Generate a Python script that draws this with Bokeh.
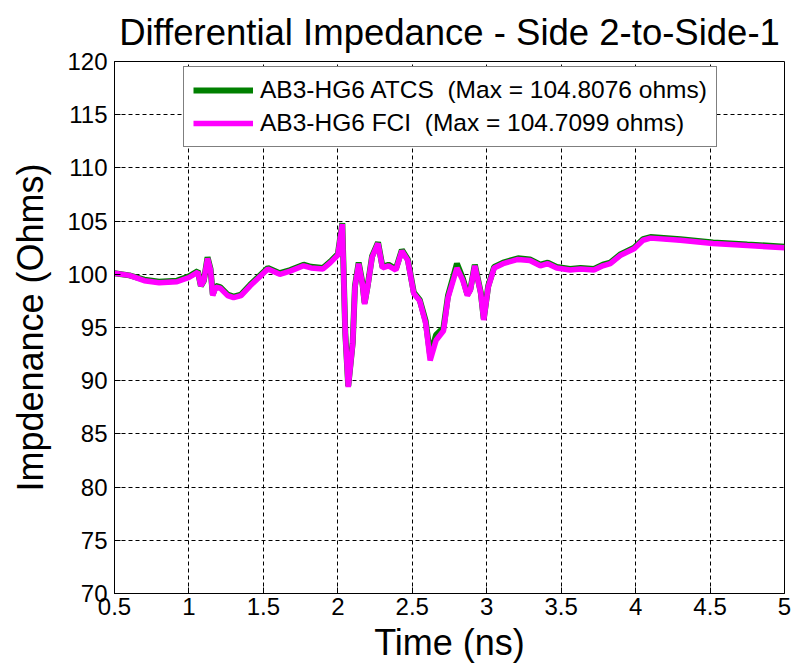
from bokeh.plotting import figure
from bokeh.models import Range1d, FixedTicker, Legend, LegendItem
from bokeh.embed import file_html
from bokeh.resources import INLINE

# ---- data ----
t_fci = [0.50, 0.60, 0.70, 0.80, 0.92, 1.00, 1.06, 1.08, 1.10, 1.125, 1.145, 1.16, 1.18, 1.21,
         1.26, 1.30, 1.35, 1.41, 1.50, 1.53, 1.61, 1.68, 1.77, 1.82, 1.90, 1.95, 2.00, 2.03,
         2.05, 2.07, 2.10, 2.115, 2.14, 2.165, 2.18, 2.20, 2.23, 2.27, 2.30, 2.34, 2.39, 2.43,
         2.47, 2.51, 2.55, 2.59, 2.62, 2.66, 2.71, 2.74, 2.80, 2.84, 2.87, 2.89, 2.92, 2.96,
         2.98, 3.01, 3.05, 3.11, 3.21, 3.29, 3.36, 3.41, 3.47, 3.56, 3.63, 3.72, 3.78, 3.83,
         3.90, 3.99, 4.05, 4.10, 4.30, 4.52, 4.75, 5.00]
z_fci = [100.1, 99.9, 99.4, 99.2, 99.3, 99.7, 100.2, 98.9, 99.4, 101.5, 100.4, 98.0, 98.8, 98.7,
         98.0, 97.8, 98.0, 98.9, 100.1, 100.5, 100.0, 100.3, 100.8, 100.6, 100.5, 101.1, 101.8, 104.71,
         94.4, 89.4, 93.5, 98.8, 101.0, 99.1, 97.2, 98.8, 101.6, 102.9, 100.6, 100.8, 100.4, 102.2,
         101.3, 98.2, 97.5, 95.4, 91.9, 93.8, 94.7, 97.8, 100.6, 99.4, 98.0, 98.5, 100.8, 98.2,
         95.7, 98.8, 100.6, 101.0, 101.4, 101.3, 100.8, 101.0, 100.6, 100.4, 100.5, 100.4, 100.8, 101.0,
         101.8, 102.4, 103.2, 103.4, 103.2, 102.9, 102.7, 102.5]

t_atcs = list(t_fci)
z_atcs = [100.1, 99.9, 99.5, 99.3, 99.4, 99.8, 100.3, 98.9, 99.4, 101.6, 100.5, 98.1, 98.9, 98.8,
          98.1, 97.9, 98.1, 99.0, 100.2, 100.6, 100.1, 100.4, 100.9, 100.7, 100.6, 101.2, 101.9, 104.81,
          94.5, 89.5, 93.6, 98.9, 101.1, 99.2, 97.3, 98.9, 101.7, 103.0, 100.7, 100.9, 100.5, 102.3,
          101.4, 98.3, 97.6, 95.6, 92.4, 94.3, 95.0, 98.0, 101.0, 99.6, 98.1, 98.6, 100.9, 98.3,
          95.8, 98.9, 100.7, 101.1, 101.5, 101.4, 100.9, 101.1, 100.7, 100.5, 100.6, 100.5, 100.9, 101.1,
          101.9, 102.5, 103.3, 103.5, 103.3, 103.0, 102.8, 102.6]

x_ticks = [0.5, 1, 1.5, 2, 2.5, 3, 3.5, 4, 4.5, 5]
x_tick_labels = ["0.5", "1", "1.5", "2", "2.5", "3", "3.5", "4", "4.5", "5"]
y_ticks = [70, 75, 80, 85, 90, 95, 100, 105, 110, 115, 120]
y_tick_labels = [str(v) for v in y_ticks]

title_text = "Differential Impedance - Side 2-to-Side-1"
series_labels = ["AB3-HG6 ATCS  (Max = 104.8076 ohms)", "AB3-HG6 FCI  (Max = 104.7099 ohms)"]

FONT = "Liberation Sans"

p = figure(width=796, height=670, output_backend="svg", toolbar_location=None,
           x_range=Range1d(0.5, 5), y_range=Range1d(70, 120),
           min_border_left=114, min_border_right=12, min_border_top=61, min_border_bottom=77,
           title=title_text)
p.background_fill_color = "white"
p.border_fill_color = "white"
p.outline_line_color = "black"
p.outline_line_width = 1

p.title.text_font = FONT
p.title.text_font_size = "36.5px"
p.title.text_font_style = "normal"
p.title.align = "center"
p.title.text_color = "black"
p.title.standoff = 17

xax = p.below[0]
yax = p.left[0]
for ax in (xax, yax):
    ax.major_label_text_font = FONT
    ax.major_label_text_font_size = "24px"
    ax.major_label_text_color = "black"
    ax.axis_label_text_font = FONT
    ax.axis_label_text_font_size = "36px"
    ax.axis_label_text_font_style = "normal"
    ax.axis_label_text_color = "black"
    ax.major_tick_in = 6
    ax.major_tick_out = 0
    ax.minor_tick_line_color = None
    ax.axis_line_color = "black"
    ax.major_tick_line_color = "black"

xax.axis_label = "Time (ns)"
yax.axis_label = "Impdenance (Ohms)"
xax.ticker = FixedTicker(ticks=x_ticks)
yax.ticker = FixedTicker(ticks=y_ticks)
xax.major_label_overrides = {k: v for k, v in zip(x_ticks, x_tick_labels)}
yax.major_label_overrides = {k: v for k, v in zip(y_ticks, y_tick_labels)}
xax.major_label_standoff = 4
xax.axis_label_standoff = 4
yax.major_label_standoff = 7
yax.axis_label_standoff = 13

p.xgrid.ticker = FixedTicker(ticks=x_ticks)
p.ygrid.ticker = FixedTicker(ticks=y_ticks)
for g in (p.xgrid[0], p.ygrid[0]):
    g.grid_line_color = "black"
    g.grid_line_dash = "4 3"
    g.grid_line_width = 1
    g.grid_line_alpha = 1

r1 = p.line(t_atcs, z_atcs, line_color="#008000", line_width=6)
r2 = p.line(t_fci, z_fci, line_color="#ff00ff", line_width=5.5)

legend = Legend(items=[LegendItem(label=series_labels[0], renderers=[r1]),
                       LegendItem(label=series_labels[1], renderers=[r2])],
                location=(69, 446))
legend.label_text_font = FONT
legend.label_text_font_size = "24.5px"
legend.label_text_color = "black"
legend.glyph_width = 60
legend.glyph_height = 28
legend.label_height = 28
legend.label_standoff = 7
legend.spacing = 5
legend.padding = 9
legend.margin = 0
legend.border_line_color = "black"
legend.border_line_width = 1
legend.background_fill_color = "white"
legend.background_fill_alpha = 1
p.add_layout(legend, "center")

open("out.html", "w").write(file_html(p, INLINE))
